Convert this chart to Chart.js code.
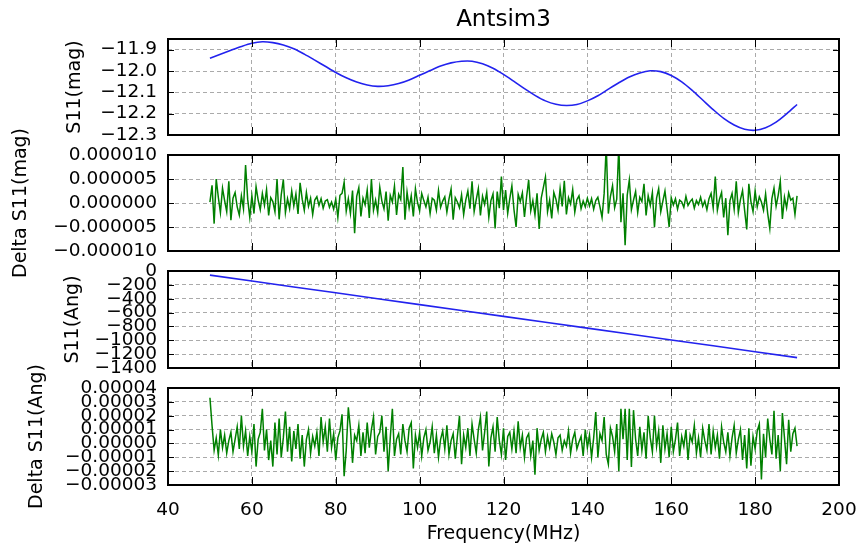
<!DOCTYPE html>
<html lang="en">
<head>
<meta charset="UTF-8">
<title>Antsim3</title>
<script src="https://cdn.jsdelivr.net/npm/chart.js"></script>
<style>
  body { margin: 0; background: #fff; }
  #wrap { position: relative; width: 858px; height: 545px; }
  #wrap canvas { position: absolute; left: 0; top: 0; }
</style>
</head>
<body>
<div id="wrap">
  <canvas id="magChart" width="858" height="545"></canvas>
  <canvas id="dMagChart" width="858" height="545"></canvas>
  <canvas id="angChart" width="858" height="545"></canvas>
  <canvas id="dAngChart" width="858" height="545"></canvas>
</div>
<script>
// S11 magnitude, read every 2.5 MHz
const magFreq = [50, 52.5, 55, 57.5, 60, 62.5, 65, 67.5, 70, 72.5, 75, 77.5, 80, 82.5, 85, 87.5, 90, 92.5, 95, 97.5,
                 100, 102.5, 105, 107.5, 110, 112.5, 115, 117.5, 120, 122.5, 125, 127.5, 130, 132.5, 135, 137.5, 140, 142.5, 145, 147.5,
                 150, 152.5, 155, 157.5, 160, 162.5, 165, 167.5, 170, 172.5, 175, 177.5, 180, 182.5, 185, 187.5, 190];
const s11Mag = [-11.940, -11.922, -11.903, -11.885, -11.870, -11.863, -11.867, -11.878, -11.896, -11.921,
                -11.949, -11.978, -12.007, -12.032, -12.052, -12.066, -12.072, -12.069, -12.059, -12.042,
                -12.020, -11.998, -11.977, -11.962, -11.954, -11.954, -11.966, -11.987, -12.016, -12.049,
                -12.083, -12.114, -12.140, -12.156, -12.162, -12.157, -12.140, -12.116, -12.085, -12.055,
                -12.028, -12.009, -11.999, -12.003, -12.021, -12.051, -12.091, -12.136, -12.181, -12.222,
                -12.253, -12.273, -12.278, -12.266, -12.240, -12.201, -12.157];

// S11 angle, read every 10 MHz
const angFreq = [50, 60, 70, 80, 90, 100, 110, 120, 130, 140, 150, 160, 170, 180, 190];
const s11Ang = [-60, -145, -230, -315, -400, -485, -570, -655, -740, -825, -910, -995, -1080, -1165, -1250];

// residuals sampled from 50 MHz in 0.5 MHz steps, in units of 1e-6
const NOISE_START = 50;
const NOISE_STEP = 0.5;
const deltaMagMicro = [
  0.2, 3.7, -4.3, 5.0, 1.2, -2.0, 3.1, 0.5, -1.8, 4.5, -3.6, 1.0, 2.2, -0.8, -2.5, 1.5, -1.2, 7.9, 0.8, -3.0,
  1.5, -2.2, 3.4, 0.6, -1.4, 2.0, -0.5, 2.8, -2.6, 1.1, 0.3, -1.8, 5.0, -3.4, 1.7, 4.9, -2.0, 0.9, -1.2, 2.5,
  -0.6, 1.9, -2.3, 4.2, 0.8, -1.5, 2.2, -0.7, 1.0, -2.4, 0.6, 1.3, -0.5, 0.9, -1.1, 0.4, 0.7, -0.9, 0.2, -1.3,
  0.8, -3.0, 1.6, 2.0, 4.3, -1.7, 0.9, -2.2, 2.6, -6.3, 1.4, 3.2, -2.8, 1.0, -0.4, 2.7, -3.1, 5.0, -1.5, 0.6,
  -2.0, 3.3, 0.4, -1.2, 2.4, -3.7, 1.6, 0.2, 3.5, -2.5, 1.8, 0.7, 7.5, -3.5, 2.3, -1.0, 1.5, -2.8, 3.0, 0.1,
  -1.6, 2.0, 0.5, -0.8, 1.2, -2.2, 1.0, 0.6, -1.5, 2.6, -0.9, 0.4, 1.3, -1.9, 0.8, 2.9, -3.5, 1.1, 0.2, -1.0,
  1.7, -2.4, 0.6, 2.5, -1.2, 4.5, -1.8, 0.7, 3.0, -2.6, 1.4, -0.3, 2.2, -3.0, 0.5, 1.9, -5.3, 2.4, -1.1, 5.5,
  -1.5, 2.7, -2.2, 0.9, 3.6, -1.4, -5.0, 1.8, 0.3, 2.1, -2.9, 1.2, 4.8, -1.6, 0.5, -2.5, 2.0, -5.4, 1.0, 3.2,
  5.4, -1.8, 0.6, -3.2, 2.2, 0.8, -1.5, 3.0, -0.7, 4.6, -2.4, 1.1, -0.2, 2.8, -1.9, 0.7, 1.5, -1.2, 0.4, -0.8,
  1.0, -0.6, 0.9, -1.3, 0.5, 1.2, -0.8, -3.0, 2.0, 12.0, -2.2, 1.4, 3.6, -1.0, 0.8, 12.0, -4.0, 2.0, -8.8, 1.6,
  4.8, -1.4, 0.6, 2.4, -2.0, 1.2, 0.3, 4.0, -2.6, 1.5, -0.5, 2.2, -5.0, 1.0, 3.0, -1.8, 0.4, 2.5, -1.2, -5.0,
  1.1, -0.4, 0.9, -1.3, 0.6, 0.2, -0.9, 1.4, -0.5, 0.3, 0.8, -1.1, 0.5, -0.3, 1.2, -0.7, 0.4, -1.4, 0.9, 2.0,
  -1.0, 5.5, -1.5, 0.8, 2.2, -3.0, 1.0, -6.7, 0.5, 2.0, -1.3, 4.5, -2.0, 0.7, 2.6, -1.6, -5.5, 4.0, 0.3, -1.8,
  2.5, -0.8, 1.3, 0.2, -1.5, 1.9, -2.2, -5.3, 0.9, 3.1, -0.7, 1.6, 4.5, -3.3, 1.2, -1.0, 2.1, 0.6, 1.0, -2.4,
  1.5
];
const deltaAngMicro = [
  33, 13, -5, 4, -8.4, 10, -3, 6, -7, 2, 8, -6, 3, 12, -4, 20, -2, 9, -9, 5,
  -6, 14, -16.7, 3, 8, 25, -5, 10, -12, 2, -16.7, 15, -8, 18, -10, 4, 23, -6, 12, -13,
  9, -4, 14, -11, 6, -16.7, 3, 10, -7, 5, -2, 8, -9, 19, 1, 12, -6, 18, -3, 7,
  -12, 4, 9, 21, -23.6, -5, 26, 11, -14, 6, 2, 13, -9, 8, -7, 15, -3, 10, 19, -8,
  5, 8, 20, -6, 12, -20, 4, 25, -9, 3, 7, -8, 14, 2, -6, 11, 15, -18, 6, -3,
  8, -9, 4, 10, -5, 1, 12, -7, 6, -10, 3, 9, -4, 13, -8, 2, 7, -11, 5, 20,
  -15, 6, -3, 11, -9, 14, 3, -7, 10, 19, -5, 8, 23, -16.7, 4, 12, -6, 19, 2, -8,
  11, -12, 5, 8, -4, 9, -7, 16, -3, 6, -10, 4, 7, -9, 2, -22.6, 11, -5, 3, 8,
  -6, 5, -3, 7, 1, -8, 4, 6, -5, 2, -2, 9, -7, 3, 8, -4, 1, 5, -9, 10,
  -3, 6, -10, 4, 22.6, -10, 7, 2, 19, -8, -15, 11, 5, -6, 14, -20, 25, 3, 25, -12,
  25, -17, 24, 3, -9, 12, -5, 8, -11, 20, 4, -6, 20, -2, 9, -14, 13, -4, 7, -10,
  12, -6, 3, 15, -9, 5, -2, 10, -12, 6, 1, 13, -7, 4, -10, 11, 2, -5, 14, -8,
  9, -3, 6, -11, 12, 1, -6, 8, -9, 4, 13, -7, 3, 10, -12, 6, -18, 11, -16, 5,
  -4, 9, 14, -26, 7, -10, 18, 3, -8, 23.6, -11, 6, -20, 22, 4, -15, 17, -6, 7, 11,
  -2
];

// tick positions
const freqTicks = [40, 60, 80, 100, 120, 140, 160, 180, 200];
const magTicks = [-12.3, -12.2, -12.1, -12.0, -11.9];
const dMagTicks = [-0.00001, -0.000005, 0, 0.000005, 0.00001];
const angTicks = [-1400, -1200, -1000, -800, -600, -400, -200, 0];
const dAngTicks = [-0.00003, -0.00002, -0.00001, 0, 0.00001, 0.00002, 0.00003, 0.00004];

const FONT = "'DejaVu Sans', sans-serif";
Chart.defaults.font.family = FONT;
Chart.defaults.font.size = 18.5;
Chart.defaults.color = '#000';

function fmt(v, d) {
    const s = Math.abs(v).toFixed(d);
    return (v < -1e-12 ? '\u2212' : '') + s;
}

function toPoints(freqs, vals) {
    return vals.map((v, i) => ({ x: freqs[i], y: v }));
}

function noisePoints(vals) {
    return vals.map((v, i) => ({ x: NOISE_START + i * NOISE_STEP, y: v * 1e-6 }));
}

// black box round the plot plus inward tick marks
const framePlugin = {
    id: 'frame',
    afterDatasetsDraw(chart) {
        const { ctx, chartArea: a, scales } = chart;
        ctx.save();
        ctx.strokeStyle = '#000';
        ctx.lineWidth = 1;
        ctx.beginPath();
        scales.x.ticks.forEach(t => {
            const px = Math.round(scales.x.getPixelForValue(t.value)) + 0.5;
            ctx.moveTo(px, a.top); ctx.lineTo(px, a.top + 8);
            ctx.moveTo(px, a.bottom); ctx.lineTo(px, a.bottom - 8);
        });
        scales.y.ticks.forEach(t => {
            const py = Math.round(scales.y.getPixelForValue(t.value)) + 0.5;
            ctx.moveTo(a.left, py); ctx.lineTo(a.left + 6, py);
            ctx.moveTo(a.right, py); ctx.lineTo(a.right - 6, py);
        });
        ctx.stroke();
        ctx.lineWidth = 2;
        ctx.strokeRect(a.left, a.top, a.right - a.left, a.bottom - a.top);
        ctx.restore();
    }
};

// rotated y label, allowed to run past the plot height like matplotlib does
const yLabelPlugin = {
    id: 'yLabel',
    afterDraw(chart, args, opts) {
        const { ctx, chartArea: a } = chart;
        ctx.save();
        ctx.translate(opts.x, (a.top + a.bottom) / 2);
        ctx.rotate(-Math.PI / 2);
        ctx.font = '19px ' + FONT;
        ctx.fillStyle = '#000';
        ctx.textAlign = 'center';
        ctx.textBaseline = 'middle';
        ctx.fillText(opts.text, 0, 0);
        ctx.restore();
    }
};

function makeChart(id, cfg) {
    const showX = !!cfg.showX;
    return new Chart(document.getElementById(id), {
        type: 'line',
        data: {
            datasets: [{
                data: cfg.data,
                borderColor: cfg.color,
                borderWidth: cfg.width,
                pointRadius: 0,
                tension: cfg.tension || 0,
                fill: false
            }]
        },
        options: {
            responsive: false,
            animation: false,
            events: [],
            layout: { padding: cfg.padding },
            plugins: {
                legend: { display: false },
                tooltip: { enabled: false },
                title: cfg.title ? {
                    display: true,
                    text: cfg.title,
                    fullSize: false,
                    font: { size: 23, weight: 'normal' },
                    padding: { top: 6, bottom: 5.4 }
                } : { display: false },
                yLabel: { text: cfg.yLabel, x: cfg.yLabelX }
            },
            scales: {
                x: {
                    type: 'linear',
                    min: 40,
                    max: 200,
                    afterBuildTicks: s => { s.ticks = freqTicks.map(v => ({ value: v })); },
                    afterFit: s => {
                        s.height = showX ? 60 : 0;
                        s.paddingLeft = 0;
                        s.paddingRight = 0;
                    },
                    ticks: { display: showX, padding: 14, autoSkip: false, maxRotation: 0 },
                    grid: { color: '#aaaaaa', drawTicks: false, lineWidth: 1 },
                    border: { display: false, dash: [4, 3] },
                    title: showX ? {
                        display: true,
                        text: 'Frequency(MHz)',
                        font: { size: 19 },
                        padding: { top: 0, bottom: 0 }
                    } : { display: false }
                },
                y: {
                    min: cfg.min,
                    max: cfg.max,
                    afterBuildTicks: s => { s.ticks = cfg.ticks.map(v => ({ value: v })); },
                    afterFit: s => { s.width = 168; },
                    ticks: { padding: 11, autoSkip: false, callback: v => fmt(v, cfg.digits) },
                    grid: { color: '#aaaaaa', drawTicks: false, lineWidth: 1 },
                    border: { display: false, dash: [4, 3] }
                }
            }
        },
        plugins: [framePlugin, yLabelPlugin]
    });
}

makeChart('magChart', {
    data: toPoints(magFreq, s11Mag),
    color: '#2222ee', width: 1.6, tension: 0.3,
    min: -12.3, max: -11.85, ticks: magTicks, digits: 1,
    padding: { left: 0, right: 19, top: 0, bottom: 410 },
    title: 'Antsim3',
    yLabel: 'S11(mag)', yLabelX: 75
});

makeChart('dMagChart', {
    data: noisePoints(deltaMagMicro),
    color: '#008000', width: 1.5,
    min: -0.00001, max: 0.00001, ticks: dMagTicks, digits: 6,
    padding: { left: 0, right: 19, top: 155, bottom: 294 },
    yLabel: 'Delta S11(mag)', yLabelX: 21
});

makeChart('angChart', {
    data: toPoints(angFreq, s11Ang),
    color: '#2222ee', width: 1.6,
    min: -1400, max: 0, ticks: angTicks, digits: 0,
    padding: { left: 0, right: 19, top: 271, bottom: 177 },
    yLabel: 'S11(Ang)', yLabelX: 73
});

makeChart('dAngChart', {
    data: noisePoints(deltaAngMicro),
    color: '#008000', width: 1.5,
    min: -0.00003, max: 0.00004, ticks: dAngTicks, digits: 5,
    padding: { left: 0, right: 19, top: 388, bottom: 0 },
    yLabel: 'Delta S11(Ang)', yLabelX: 37,
    showX: true
});
</script>
</body>
</html>
